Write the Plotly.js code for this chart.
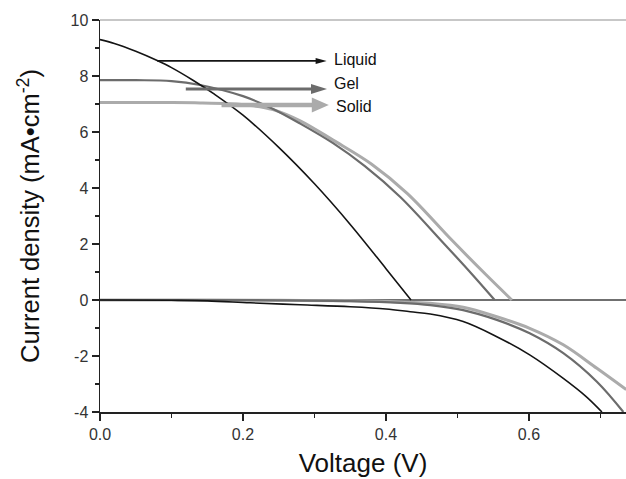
<!DOCTYPE html>
<html>
<head>
<meta charset="utf-8">
<script src="https://cdn.plot.ly/plotly-3.0.1.min.js"></script>
<style>html,body{margin:0;padding:0;background:#fff;}#chart{width:626px;height:479px;}</style>
</head>
<body>
<div id="chart"></div>
<script>
// ---- Data ----
var seriesNames = ["Liquid", "Gel", "Solid"];

// Illuminated J-V curves
var liquidLightV = [0, 0.02, 0.05, 0.08, 0.1, 0.13, 0.16, 0.2, 0.25, 0.3, 0.35, 0.4, 0.435];
var liquidLightJ = [9.3, 9.16, 8.88, 8.55, 8.3, 7.85, 7.35, 6.6, 5.45, 4.15, 2.7, 1.12, 0];

var gelLightV = [0, 0.05, 0.1, 0.14, 0.2, 0.24, 0.28, 0.326, 0.37, 0.42, 0.478, 0.52, 0.552];
var gelLightJ = [7.85, 7.85, 7.82, 7.68, 7.28, 6.85, 6.3, 5.6, 4.79, 3.68, 2.1, 0.93, 0];

var solidLightV = [0, 0.05, 0.1, 0.14, 0.18, 0.21, 0.242, 0.28, 0.326, 0.38, 0.43, 0.492, 0.54, 0.576];
var solidLightJ = [7.05, 7.05, 7.05, 7.04, 7.01, 6.95, 6.8, 6.4, 5.71, 4.85, 3.8, 2.14, 0.9, 0];

// Dark J-V curves
var liquidDarkV = [0, 0.1, 0.15, 0.21, 0.28, 0.35, 0.4, 0.434, 0.462, 0.508, 0.555, 0.601, 0.648, 0.68, 0.702];
var liquidDarkJ = [0, -0.01, -0.03, -0.1, -0.17, -0.24, -0.32, -0.42, -0.5, -0.77, -1.31, -1.96, -2.8, -3.45, -4.0];

var gelDarkV = [0, 0.15, 0.25, 0.35, 0.42, 0.462, 0.508, 0.555, 0.601, 0.648, 0.695, 0.732];
var gelDarkJ = [0, 0, -0.01, -0.04, -0.1, -0.18, -0.36, -0.71, -1.19, -1.9, -2.92, -4.0];

var solidDarkV = [0, 0.15, 0.25, 0.35, 0.42, 0.462, 0.508, 0.555, 0.601, 0.648, 0.695, 0.736];
var solidDarkJ = [0, 0, -0.01, -0.03, -0.07, -0.12, -0.26, -0.6, -1.01, -1.6, -2.44, -3.2];

// Axis ticks
var xTickVals = [0, 0.2, 0.4, 0.6];
var xTickText = ["0.0", "0.2", "0.4", "0.6"];
var yTickVals = [-4, -2, 0, 2, 4, 6, 8, 10];
var yTickText = ["-4", "-2", "0", "2", "4", "6", "8", "10"];

// ---- Styles ----
var colors = {Liquid: "#141414", Gel: "#6c6c6c", Solid: "#ababab"};
var widths = {Liquid: 1.6, Gel: 2.2, Solid: 3};
var FONT = "Liberation Sans, Arial, Helvetica, sans-serif";

function curve(name, xs, ys) {
  return {
    type: "scatter", mode: "lines", x: xs, y: ys, name: name,
    line: {color: colors[name], width: widths[name], shape: "spline", smoothing: 1},
    hoverinfo: "skip", showlegend: false
  };
}

var traces = [
  curve("Solid", solidLightV, solidLightJ),
  curve("Solid", solidDarkV, solidDarkJ),
  curve("Gel", gelLightV, gelLightJ),
  curve("Gel", gelDarkV, gelDarkJ),
  curve("Liquid", liquidLightV, liquidLightJ),
  curve("Liquid", liquidDarkV, liquidDarkJ)
];

var xRange = [0, 0.7357];
var margin = {l: 100, r: 0, t: 20, b: 67};
var pxPerV = (626 - margin.l - margin.r) / (xRange[1] - xRange[0]);

// Label arrows: [name, startV, tipV, J, shaftWidth, headLen, headHalfWidth, labelJ]
var arrows = [
  ["Liquid", 0.08, 0.317, 8.54, 1.8, 11, 3, 8.6],
  ["Gel", 0.12, 0.3175, 7.54, 3, 16, 5, 7.72],
  ["Solid", 0.17, 0.320, 6.96, 4.5, 17, 7.5, 6.9]
];

var shapes = [
  {type: "line", xref: "paper", yref: "paper", x0: 0, x1: 1, y0: 1, y1: 1,
   line: {color: "#b4b4b4", width: 1.5}}
];
var annotations = [];
arrows.forEach(function (a) {
  var name = a[0], c = colors[name];
  shapes.push({type: "line", xref: "x", yref: "y", x0: a[1], x1: a[2] - (a[5] - 1) / pxPerV,
    y0: a[3], y1: a[3], line: {color: c, width: a[4]}});
  shapes.push({type: "path", xref: "x", yref: "y", xsizemode: "pixel", ysizemode: "pixel",
    xanchor: a[2], yanchor: a[3],
    path: "M0,0 L" + (-a[5]) + "," + a[6] + " L" + (-a[5]) + "," + (-a[6]) + " Z",
    fillcolor: c, line: {width: 0}});
  annotations.push({x: a[2] + 5 / pxPerV, y: a[7], xref: "x", yref: "y", text: name,
    showarrow: false, xanchor: "left", yanchor: "middle",
    font: {family: FONT, size: 16, color: "#111"}});
});

var axisCommon = {
  showgrid: false, showline: true, linecolor: "#222", linewidth: 1.5,
  ticks: "outside", ticklen: 7, tickwidth: 1.5, tickcolor: "#222",
  tickfont: {family: FONT, size: 16, color: "#333"}
};

var layout = {
  width: 626, height: 479, margin: margin,
  paper_bgcolor: "#fff", plot_bgcolor: "#fff",
  showlegend: false,
  xaxis: Object.assign({}, axisCommon, {
    range: xRange, tickvals: xTickVals, ticktext: xTickText, zeroline: false,
    minor: {dtick: 0.1, tick0: 0, ticks: "outside", ticklen: 4, tickwidth: 1.5, tickcolor: "#222", showgrid: false},
    title: {text: "Voltage (V)", font: {family: FONT, size: 26, color: "#111"}, standoff: 12}
  }),
  yaxis: Object.assign({}, axisCommon, {
    range: [-4, 10], tickvals: yTickVals, ticktext: yTickText,
    zeroline: true, zerolinecolor: "#707070", zerolinewidth: 1.6,
    minor: {dtick: 1, tick0: 0, ticks: "outside", ticklen: 4, tickwidth: 1.5, tickcolor: "#222", showgrid: false},
    title: {text: "Current density (mA\u2022cm<sup>-2</sup>)", font: {family: FONT, size: 25.5, color: "#111"}, standoff: 23}
  }),
  shapes: shapes,
  annotations: annotations
};

Plotly.newPlot("chart", traces, layout, {staticPlot: true, displayModeBar: false});
</script>
</body>
</html>
